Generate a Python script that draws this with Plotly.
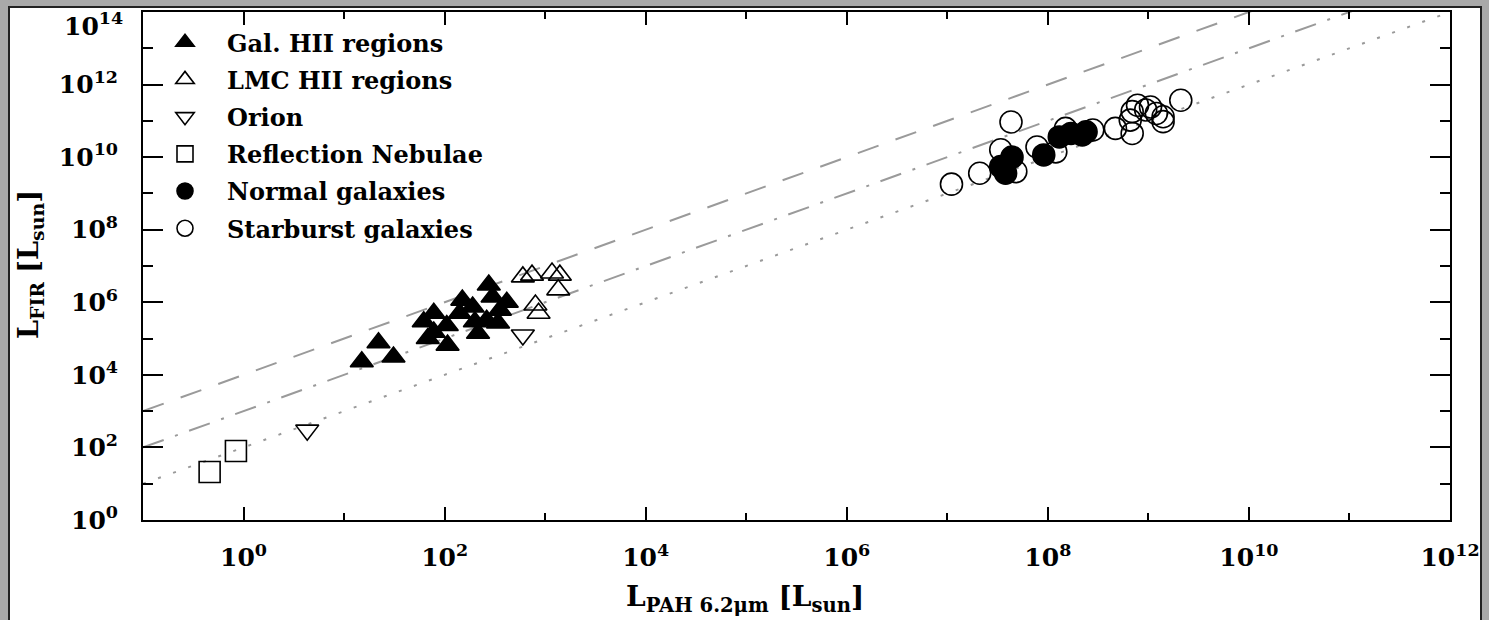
import plotly.graph_objects as go

# ---------------- data ----------------
gal_hii_x = [15, 22, 31, 62, 78, 68, 105, 107, 150, 141, 190, 215, 275, 300, 355, 415, 340, 262, 200, 78]
gal_hii_y = [2.3e4, 7.7e4, 3.1e4, 2.9e5, 5e5, 1e5, 2.3e5, 6.6e4, 1.15e6, 5e5, 7.4e5, 1.4e5, 3e6, 1.4e6,
             6.1e5, 1e6, 2.7e5, 3.2e5, 2.9e5, 1.5e5]

lmc_hii_x = [600, 740, 1170, 1400, 1350, 800, 860]
lmc_hii_y = [5e6, 5.6e6, 6.4e6, 5.6e6, 2.2e6, 8.4e5, 5e5]

orion_x = [4.3, 600]
orion_y = [300, 1.25e5]

refl_x = [0.46, 0.84]
refl_y = [21, 80]

normal_x = [3.4e7, 4.4e7, 3.8e7, 9.1e7, 1.3e8, 1.7e8, 2.2e8, 2.4e8]
normal_y = [5.5e9, 1e10, 3.6e9, 1.15e10, 3.6e10, 4.5e10, 4.1e10, 5e10]

starburst_x = [1.1e7, 2.1e7, 3.4e7, 4.3e7, 4.8e7, 7.8e7, 1.2e8, 1.5e8, 2.8e8, 4.7e8, 6.9e8, 6.6e8,
               7.8e8, 9.4e8, 1.2e9, 1.4e9, 1.4e9, 2.1e9, 1.05e9, 6.9e8]
starburst_y = [1.8e9, 3.6e9, 1.6e10, 9.3e10, 4e9, 1.9e10, 1.4e10, 6.2e10, 5.6e10, 6.2e10, 4.5e10, 1.05e11,
               2.7e11, 2e11, 1.6e11, 9.5e10, 1.3e11, 3.7e11, 2.4e11, 1.8e11]

# ratio lines L_FIR = k * L_PAH
line_x = [1e-1, 1e12]
line_ratios = [1e4, 1e3, 1e2]

x_tick_exps = [0, 2, 4, 6, 8, 10, 12]
y_tick_exps = [0, 2, 4, 6, 8, 10, 12, 14]
x_minor_exps = [1, 3, 5, 7, 9, 11]
y_minor_exps = [1, 3, 5, 7, 9, 11, 13]

x_title = "L<sub>PAH 6.2μm</sub> [L<sub>sun</sub>]"
y_title = "L<sub>FIR</sub> [L<sub>sun</sub>]"

# ---------------- figure ----------------
FONT = "DejaVu Serif"
fig = go.Figure()

dash_styles = ["22px,18px", "22px,12px,3px,12px", "3px,13px"]
for k, d in zip(line_ratios, dash_styles):
    fig.add_trace(go.Scatter(x=line_x, y=[k * v for v in line_x], mode="lines",
                             line=dict(color="#9a9a9a", width=2, dash=d),
                             showlegend=False, hoverinfo="skip"))

mk_line = dict(color="black", width=1.6)
series = [
    ("Gal. HII regions", gal_hii_x, gal_hii_y, "triangle-up", 20),
    ("LMC HII regions", lmc_hii_x, lmc_hii_y, "triangle-up-open", 20),
    ("Orion", orion_x, orion_y, "triangle-down-open", 20),
    ("Reflection Nebulae", refl_x, refl_y, "square-open", 21),
    ("Normal galaxies", normal_x, normal_y, "circle", 22),
    ("Starburst galaxies", starburst_x, starburst_y, "circle-open", 22),
]
for i, (name, xs, ys, sym, sz) in enumerate(series):
    fig.add_trace(go.Scatter(x=xs, y=ys, mode="markers", name=name, legendgroup=f"g{i}",
                             marker=dict(symbol=sym, size=sz, color="black", line=mk_line)))

top_exp = y_tick_exps[-1]
fig.update_xaxes(
    type="log", range=[-1, 12], automargin=False,
    tickvals=[10 ** e for e in x_tick_exps],
    ticktext=[f"10<sup>{e}</sup>" for e in x_tick_exps],
    ticks="inside", ticklen=13, tickwidth=2, tickcolor="black",
    minor=dict(tickvals=[10 ** e for e in x_minor_exps], ticks="inside", ticklen=7,
               tickwidth=1.5, tickcolor="black", showgrid=False),
    showline=True, linewidth=2, linecolor="black", mirror="ticks",
    showgrid=False, zeroline=False, ticklabelstandoff=14, ticklabeloverflow="allow",
    tickfont=dict(family=FONT, size=25, color="black"),
)
fig.update_yaxes(
    type="log", range=[0, 14], automargin=False,
    tickvals=[10 ** e for e in y_tick_exps],
    # the top label is drawn as an annotation, nudged down so it stays on the page
    ticktext=[f"10<sup>{e}</sup>" if e != top_exp else "" for e in y_tick_exps],
    ticks="inside", ticklen=20, tickwidth=2, tickcolor="black",
    minor=dict(tickvals=[10 ** e for e in y_minor_exps], ticks="inside", ticklen=10,
               tickwidth=1.5, tickcolor="black", showgrid=False),
    showline=True, linewidth=2, linecolor="black", mirror="ticks",
    showgrid=False, zeroline=False, ticklabelstandoff=18, ticklabeloverflow="allow",
    tickfont=dict(family=FONT, size=25, color="black"),
)

# page frame: gray surround with white panel and dark border
L, R, T, B = 143, 39, 12, 100
W, H = 1489, 620
pw, ph = W - L - R, H - T - B
def px_x(p):
    return (p - L) / pw
def px_y(p):
    return (H - B - p) / ph
fig.add_shape(type="rect", xref="paper", yref="paper",
              x0=px_x(9), x1=px_x(1481), y0=px_y(640), y1=px_y(7),
              fillcolor="white", line=dict(color="#222222", width=2), layer="below")

fig.add_annotation(text=f"10<sup>{top_exp}</sup>", xref="paper", yref="paper",
                   x=px_x(125), y=px_y(6), xanchor="right", yanchor="top", showarrow=False,
                   font=dict(family=FONT, size=25, color="black", weight="bold"))
fig.add_annotation(text=x_title, xref="paper", yref="paper", x=px_x(745), y=px_y(598),
                   xanchor="center", yanchor="middle", showarrow=False,
                   font=dict(family=FONT, size=28, color="black", weight="bold"))
fig.add_annotation(text=y_title, xref="paper", yref="paper", x=px_x(30), y=px_y(265),
                   xanchor="center", yanchor="middle", showarrow=False, textangle=-90,
                   font=dict(family=FONT, size=27, color="black", weight="bold"))

fig.update_layout(
    width=W, height=H,
    margin=dict(l=L, r=R, t=T, b=B, autoexpand=False),
    paper_bgcolor="#a9a9a9", plot_bgcolor="white",
    font=dict(family=FONT, size=20, color="black", weight="bold"),
    legend=dict(x=0.0, y=0.984, xanchor="left", yanchor="top",
                bgcolor="rgba(0,0,0,0)", borderwidth=0,
                font=dict(family=FONT, size=24, color="black", weight="bold"),
                tracegroupgap=3, itemwidth=74, traceorder="grouped"),
)

fig.write_html("out.html")
